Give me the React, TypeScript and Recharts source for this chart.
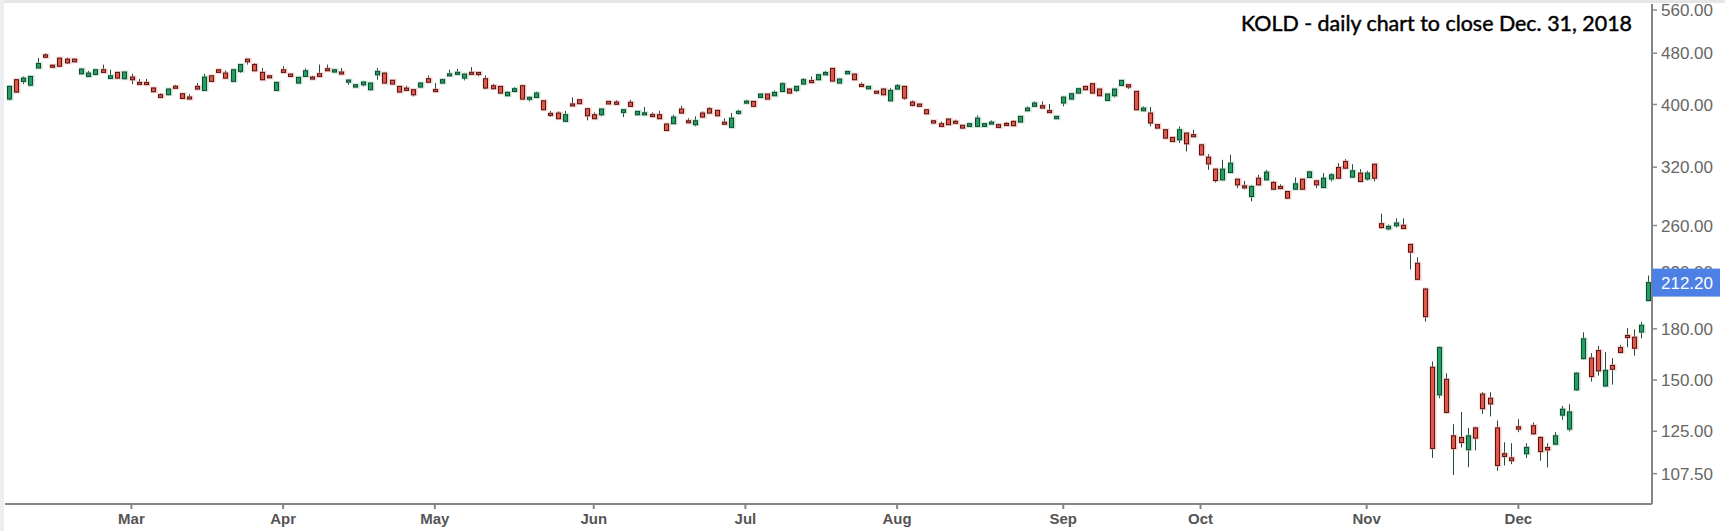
import React from "react";
import { Bar, ComposedChart, XAxis, YAxis } from "recharts";

// trading days, Feb 5 – Dec 31 2018
const febDays = [5, 6, 7, 8, 9, 12, 13, 14, 15, 16, 20, 21, 22, 23, 26, 27, 28];
const marDays = [1, 2, 5, 6, 7, 8, 9, 12, 13, 14, 15, 16, 19, 20, 21, 22, 23, 26, 27, 28, 29];
const aprDays = [2, 3, 4, 5, 6, 9, 10, 11, 12, 13, 16, 17, 18, 19, 20, 23, 24, 25, 26, 27, 30];
const mayDays = [1, 2, 3, 4, 7, 8, 9, 10, 11, 14, 15, 16, 17, 18, 21, 22, 23, 24, 25, 29, 30, 31];
const junDays = [1, 4, 5, 6, 7, 8, 11, 12, 13, 14, 15, 18, 19, 20, 21, 22, 25, 26, 27, 28, 29];
const julDays = [2, 3, 5, 6, 9, 10, 11, 12, 13, 16, 17, 18, 19, 20, 23, 24, 25, 26, 27, 30, 31];
const augDays = [1, 2, 3, 6, 7, 8, 9, 10, 13, 14, 15, 16, 17, 20, 21, 22, 23, 24, 27, 28, 29, 30, 31];
const sepDays = [4, 5, 6, 7, 10, 11, 12, 13, 14, 17, 18, 19, 20, 21, 24, 25, 26, 27, 28];
const octDays = [1, 2, 3, 4, 5, 8, 9, 10, 11, 12, 15, 16, 17, 18, 19, 22, 23, 24, 25, 26, 29, 30, 31];
const novDays = [1, 2, 5, 6, 7, 8, 9, 12, 13, 14, 15, 16, 19, 20, 21, 23, 26, 27, 28, 29, 30];
const decDays = [3, 4, 6, 7, 10, 11, 12, 13, 14, 17, 18, 19, 20, 21, 24, 26, 27, 28, 31];

const monthLabels = ["Feb", "Mar", "Apr", "May", "Jun", "Jul", "Aug", "Sep", "Oct", "Nov", "Dec"];
const monthDays = [febDays, marDays, aprDays, mayDays, junDays, julDays, augDays, sepDays, octDays, novDays, decDays];

const opens = [
  407.8, 436.9, 434.3, 428.5, 455.5, 477.2, 460, 471.7, 470, 470, 446.2, 442, 445.2, 452.6, 438.9, 448.4, 438.4,
  441, 432.7, 432.5, 424.2, 414.2, 414.2, 426.8, 415.6, 410.8, 426.6, 420.6, 443, 452.6, 447.3, 434.3, 450, 470,
  461.1, 448.4, 443, 420.6, 452.6, 445.7, 431.7, 442, 441, 446.2, 454.3, 449, 449, 436, 425.6, 429.1, 421.6, 444.6,
  447.3, 436, 426.6, 424, 421.6, 425.6, 438.4, 421.8, 431.7, 445.5, 447, 439.4, 448.5, 448.3, 438.4, 427.6, 426.6,
  412.7, 419, 427.6, 410, 410.2, 405.3, 387.5, 388, 376.7, 400.8, 406.8, 394, 385.7, 385.7, 404.4, 403.5, 388.9,
  403.1, 385.7, 388, 385.9, 385.7, 373.1, 373.6, 393.6, 377.5, 372.3, 388, 394, 391.7, 375.5, 368.7, 387.5, 404.5,
  404.4, 410.2, 415.1, 412.7, 419, 422.6, 420.6, 430.2, 435.5, 436.9, 444.6, 454.8, 431.7, 446.2, 445.7, 429.5,
  423, 419.3, 422.6, 405.3, 422.6, 426.6, 403.5, 400.6, 392.6, 377.5, 373.6, 379.8, 376.8, 371.4, 370, 370, 370,
  375.4, 372.3, 373.9, 376.6, 375.8, 391.2, 397.4, 398.3, 391.4, 380.3, 402.1, 407.8, 416.6, 426.6, 430.7, 422.6,
  405.8, 412.7, 428.1, 429.1, 419.1, 391.2, 388, 372.3, 365.6, 355.7, 352.8, 361.3, 359.2, 346.5, 331.6, 317.8,
  305.9, 314, 306.6, 299.4, 288.3, 307.7, 305.9, 303, 298.7, 293.5, 295.9, 306.6, 308.5, 304.8, 297.7, 306.9,
  319.7, 326.5, 308.9, 313.3, 306.9, 323.4, 261.7, 257, 259.8, 260.2, 243.1, 227.3, 207.4, 157, 142.3, 150.4, 123,
  122.3, 117.1, 126.5, 142.7, 140.6, 126.5, 115.4, 113.7, 127, 115.4, 127.5, 122.3, 118, 119.4, 132.4, 126, 144.9,
  161.9, 162.2, 166.6, 146.9, 158, 168.4, 175.8, 174.7, 178, 199.1,
];
const highs = [
  428, 437.5, 442, 443, 471.7, 480, 461, 472.5, 472.8, 471, 455, 451, 453.5, 461, 452.6, 449, 449.5, 446.2, 438,
  438, 424.8, 416.6, 423.3, 429, 416.3, 415, 431.7, 446.2, 443.6, 453.2, 451.6, 453.7, 461.7, 470.6, 463.9, 455.5,
  444, 433.3, 458.4, 446.3, 441, 454.9, 443, 461.1, 461, 453.2, 455.5, 437, 429.7, 433.8, 432.3, 455.5, 448, 436.6,
  427, 427.6, 422, 432.3, 443.6, 431.7, 438.4, 452.6, 454, 446.2, 457, 448.5, 443.6, 430.7, 427, 419, 425.6, 429.1,
  410.7, 418.6, 406, 390.8, 390.3, 390.8, 410.2, 407.3, 394.6, 389, 394.2, 405, 406, 393.2, 406.8, 390.8, 396.5,
  389, 391.2, 373.6, 385.7, 398.3, 381, 383.4, 390.3, 396.5, 392.2, 381, 388, 392.6, 406.8, 405, 415.6, 415.6,
  420.6, 432.7, 424.1, 427, 439.4, 442, 445.2, 451, 455.5, 438.4, 450.4, 446.3, 432.7, 427, 419.5, 424.1, 424.1,
  430.2, 427.2, 405.8, 401, 393.1, 378, 376.6, 380.3, 378.9, 372, 374, 384.8, 374, 378, 373.6, 376, 378, 384,
  397.4, 404.4, 404.4, 400.7, 384, 411.2, 416, 423.6, 427, 431.2, 423.1, 415.6, 423, 436.3, 429.6, 419.6, 397.4,
  396.5, 372.8, 366, 356.2, 370, 361.8, 365.6, 347, 335.2, 318.3, 328.5, 334.4, 307.1, 304.8, 300.5, 311.4, 317,
  304.8, 301.2, 294, 308.5, 307.1, 315.2, 305.3, 313.3, 313.3, 324.6, 329.3, 323.4, 317.8, 315.9, 323.9, 271.2,
  261, 266.8, 266.8, 243.6, 232.2, 207.9, 160.2, 169, 153.7, 128.2, 133.9, 126.5, 127, 143.7, 143.7, 129.9, 120.2,
  119.8, 130.5, 119.8, 129, 122.8, 119.8, 124.6, 136.8, 137.6, 154.2, 177.8, 165.1, 169.4, 165.7, 162.2, 170,
  180.5, 179.6, 184.5, 217.6,
];
const lows = [
  406, 417, 430, 427, 455, 472, 455.5, 457, 462, 464.8, 445, 441, 444, 447.5, 438, 438.5, 437.5, 430, 432, 431.8,
  418, 409.6, 413.5, 426, 408, 410.2, 422, 420, 433.7, 447.8, 437.9, 433.7, 447.3, 461, 450.4, 436.3, 441.5, 420,
  447.8, 441.5, 431, 441.5, 440.5, 441.5, 453.8, 448.5, 448.5, 429, 425, 426.6, 420.6, 436.9, 431, 429.6, 417.6,
  420, 411.7, 425, 432.5, 421, 431, 445, 446.3, 435.8, 446.8, 442, 422.6, 422.5, 416, 412, 418.5, 407.3, 404.5,
  409.7, 392, 382.5, 379.7, 376, 400, 400.7, 378, 379.7, 383.4, 400.3, 399.8, 382.5, 397, 385, 387.5, 382.5, 379.7,
  364.2, 373, 387.5, 377, 370, 382, 387.5, 383.8, 372.3, 368.2, 385.7, 404, 396.9, 409.7, 407.3, 412.2, 418.5,
  416.1, 418, 429.7, 434.8, 436.3, 444, 434.3, 431.2, 445.7, 436.3, 426.6, 422.6, 416.6, 413.6, 404.8, 422, 406.8,
  397.4, 397, 386.5, 374, 369.5, 371.8, 376, 367.3, 369.5, 369.5, 369.5, 375, 368.2, 373, 370.4, 375.3, 390.7,
  397, 394.5, 390.7, 379.8, 397.4, 407.3, 416.1, 421, 416, 412.2, 405.3, 410.2, 427.6, 422.6, 392, 390.7, 370,
  367.3, 354.4, 350.2, 348.6, 338.4, 358.5, 333.9, 317, 303, 305.4, 313.5, 297, 295.9, 283.2, 300, 305.4, 295.4,
  295.9, 286.1, 295.4, 295.4, 308, 297, 297.2, 304.1, 307.2, 318.4, 308.4, 303.6, 305.2, 304.1, 257.2, 255.6,
  258.1, 256.9, 222.4, 214.2, 184.7, 113.7, 140.6, 133.2, 107, 118, 110, 116.8, 133, 131.8, 108.6, 110.7, 111.2,
  124.6, 113.7, 123.4, 112.6, 109.9, 119, 130.2, 124.9, 144.4, 161.5, 149.2, 152.4, 146.4, 147.6, 165, 168.6,
  163.6, 174.1, 198.6,
];
const closes = [
  426.6, 418.1, 439.4, 442, 462.8, 473.3, 459.5, 458.4, 463.9, 465.7, 453.7, 447.3, 452.6, 448.4, 443, 439.4, 449,
  436.9, 432.3, 432.2, 418.6, 410.2, 422.6, 426.4, 408.7, 410.6, 422.6, 441, 434.3, 448.4, 439.4, 452.6, 461.1,
  465.7, 451, 436.9, 442.5, 432.7, 448.4, 442, 440.5, 451, 440.8, 442, 454, 452.6, 448.8, 436.3, 429.1, 433.3,
  431.7, 450, 431.7, 430.2, 418.1, 420.6, 414.1, 431.7, 433, 421.6, 436.9, 446, 448.5, 445.7, 447.3, 447.8, 424.1,
  423.1, 416.6, 417.6, 423.1, 407.8, 410.4, 416.6, 392.6, 386.8, 380.3, 385.7, 400.4, 401.2, 384.3, 380.3, 393.6,
  400.8, 400.3, 392.6, 397.4, 390.3, 388.3, 385.6, 380.3, 364.7, 382.5, 388, 377.2, 377.5, 382.5, 388, 384.3,
  375.3, 381, 390.3, 404.8, 397.4, 415.1, 407.8, 417.6, 430.7, 416.6, 426.6, 436.9, 435.3, 444.6, 448.3, 434.8,
  437.9, 449.9, 436.9, 429.1, 426.6, 419, 414.1, 420.6, 427.6, 409.2, 398.8, 397.4, 387, 374.5, 370, 372.3, 376.4,
  367.8, 373.6, 381, 373.6, 375.7, 368.7, 373.6, 370.9, 383.4, 394.9, 402.1, 395, 391.2, 383.4, 410.7, 415.6,
  423.1, 421.6, 416.6, 412.7, 415.1, 422.6, 435.8, 425.6, 392.6, 394.9, 374.5, 367.8, 354.9, 350.7, 365.6, 347.8,
  358.9, 334.4, 323.8, 305.2, 317.8, 324.6, 300.5, 298, 298.7, 300.5, 314.4, 295.9, 297.3, 286.6, 301.6, 295.9,
  314.7, 300.5, 307.7, 311.4, 307.7, 318.9, 315.9, 304.1, 313.3, 307.7, 258.1, 259.2, 262.3, 257.2, 236.5, 214.7,
  188, 117.6, 168.4, 133.7, 117.6, 120.1, 123, 122, 135.5, 137.8, 110.7, 114.3, 112.6, 126, 118, 123.9, 116.3,
  117, 123, 135.2, 133.9, 153.7, 173.7, 151.9, 155, 155.3, 155.9, 165.5, 174.5, 168, 182.3, 212.2,
];

const priceTicks = [560, 480, 400, 320, 260, 220, 180, 150, 125, 107.5];
const title = "KOLD - daily chart to close Dec. 31, 2018";

const dates = monthDays.flatMap((days, m) =>
  days.map((d) => `2018-${String(m + 2).padStart(2, "0")}-${String(d).padStart(2, "0")}`)
);
// first trading day of each month (Feb is cut off on the left)
const monthStarts = monthDays.slice(1).map((days, m) => `2018-${String(m + 3).padStart(2, "0")}-${String(days[0]).padStart(2, "0")}`);
const lastClose = closes[closes.length - 1];

const data = dates.map((date, i) => ({
  date,
  open: opens[i],
  high: highs[i],
  low: lows[i],
  close: closes[i],
  range: [lows[i], highs[i]],
}));

const Candle = (props: any) => {
  const { x, y, width, height, payload } = props;
  if (!payload) return null;
  const { open, close, high, low } = payload;
  const top = Math.min(y, y + height);
  const h = Math.abs(height);
  const lh = Math.log(high);
  const ll = Math.log(low);
  const toY = (v: number) => top + (h * (lh - Math.log(v))) / (lh - ll || 1);
  const cx = Math.round(x + width / 2);
  const up = close >= open;
  const bTop = toY(Math.max(open, close));
  const bBot = toY(Math.min(open, close));
  const bh = Math.max(bBot - bTop, 2);
  const fill = up ? "#21a064" : "#e4564a";
  const stroke = up ? "#17472f" : "#521814";
  const halo = up ? "#8fcfae" : "#eaa29c";
  return (
    <g>
      <line x1={cx + 0.5} x2={cx + 0.5} y1={top} y2={top + h} stroke="#264a3a" strokeWidth={1} />
      <rect x={cx - 2.5} y={bTop - 1.5} width={7} height={bh + 3} fill={halo} opacity={0.55} />
      <rect x={cx - 1.5} y={bTop} width={4} height={bh} fill={fill} stroke={stroke} strokeWidth={1} />
    </g>
  );
};

const PriceTick = (props: any) => {
  const { x, y, payload } = props;
  const v = payload.value;
  if (v === lastClose) {
    return (
      <g>
        <rect x={x - 9} y={y - 14} width={68} height={28} fill="#4d80e4" />
        <text x={x} y={y} dy="0.355em" fill="#ffffff" fontSize={17} fontFamily="Liberation Sans, Arial, sans-serif">
          {v.toFixed(2)}
        </text>
      </g>
    );
  }
  return (
    <g>
      <line x1={x - 9} x2={x - 4} y1={y} y2={y} stroke="#8a8a8a" strokeWidth={1.5} />
      <text x={x} y={y} dy="0.355em" fill="#666666" fontSize={17} fontFamily="Liberation Sans, Arial, sans-serif">
        {v.toFixed(2)}
      </text>
    </g>
  );
};

const monthName = (d: string) => monthLabels[Number(d.slice(5, 7)) - 2];

export default function App() {
  return (
    <div style={{ position: "absolute", left: 0, top: 0, width: 1725, height: 531, background: "#fff" }}>
      <ComposedChart width={1725} height={531} data={data} margin={{ top: 4, right: 0, bottom: 0, left: 5 }}>
        <XAxis
          dataKey="date"
          ticks={monthStarts}
          interval={0}
          tickFormatter={monthName}
          height={27}
          tickSize={5}
          tickMargin={4}
          stroke="#858585"
          strokeWidth={2}
          tick={{ fill: "#555555", fontSize: 15, fontWeight: "bold", fontFamily: "Liberation Sans, Arial, sans-serif" }}
        />
        <YAxis
          orientation="right"
          scale="log"
          type="number"
          domain={[96.5, 572]}
          allowDataOverflow
          ticks={[...priceTicks, lastClose]}
          interval={0}
          width={73}
          tickLine={false}
          tickSize={5}
          tickMargin={4}
          stroke="#858585"
          strokeWidth={2}
          tick={<PriceTick />}
        />
        <Bar dataKey="range" shape={<Candle />} isAnimationActive={false} />
      </ComposedChart>
      <div style={{ position: "absolute", left: 0, top: 0, width: 1725, height: 3, background: "#e6e6e6" }} />
      <div style={{ position: "absolute", left: 0, top: 0, width: 4, height: 531, background: "#eceef2" }} />
      <svg width={1725} height={45} style={{ position: "absolute", left: 0, top: 0, pointerEvents: "none" }}>
        <text
          x={1632}
          y={31}
          textAnchor="end"
          fontFamily="Lato, 'Open Sans', sans-serif"
          fontSize={21}
          fill="#000000"
          stroke="#000000"
          strokeWidth={0.45}
          textLength={391}
          lengthAdjust="spacingAndGlyphs"
        >
          {title}
        </text>
      </svg>
    </div>
  );
}
